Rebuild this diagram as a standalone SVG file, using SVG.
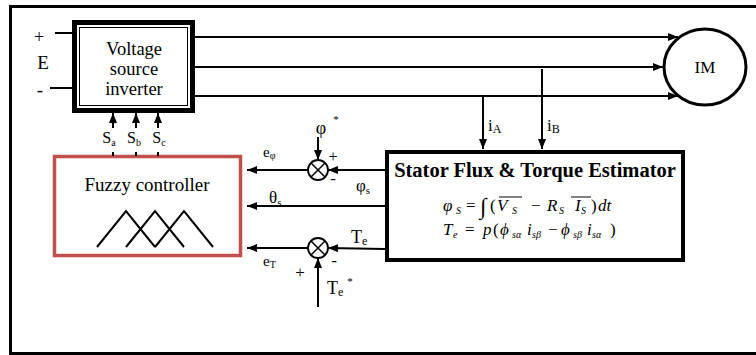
<svg xmlns="http://www.w3.org/2000/svg" width="756" height="355" viewBox="0 0 756 355">
<defs>
<style>
.t{font-family:"Liberation Serif","Times New Roman",serif;fill:#000}
.i{font-style:italic}
.w{stroke:#000;stroke-width:2;fill:none}
.frame{stroke:#000;stroke-width:3;fill:none}
</style>
<marker id="ah" viewBox="0 0 10 8" refX="10" refY="4" markerWidth="10" markerHeight="8" markerUnits="userSpaceOnUse" orient="auto">
<path d="M0,0 L10,4 L0,8 z" fill="#000"/>
</marker>
</defs>
<rect x="0" y="0" width="756" height="355" fill="#fff"/>
<g id="frame">
<path class="frame" d="M10.5,5 V353.5 H756 M9,6.5 H756"/>
</g>

<g id="source">
<text class="t" x="39" y="43" font-size="18" text-anchor="middle">+</text>
<text class="t" x="43" y="69" font-size="19" text-anchor="middle">E</text>
<text class="t" x="40" y="96" font-size="19" text-anchor="middle">-</text>
</g>

<g id="vsi">
<rect x="74.5" y="22.5" width="118" height="88" fill="#fff" stroke="#000" stroke-width="5"/>
<rect x="79.5" y="27.5" width="108" height="78" fill="none" stroke="#000" stroke-width="1"/>
<text class="t" font-size="18.5" text-anchor="middle"><tspan x="134" y="55">Voltage</tspan><tspan x="134" y="75">source</tspan><tspan x="134" y="95">inverter</tspan></text>
</g>

<g id="im">
<ellipse cx="705" cy="67" rx="41" ry="38" fill="#fff" stroke="#000" stroke-width="3"/>
<text class="t" x="705" y="73" font-size="17" text-anchor="middle">IM</text>
</g>

<g id="fuzzy">
<rect x="54.5" y="156.5" width="186" height="99" fill="#fff" stroke="#c0504d" stroke-width="3.5"/>
<text class="t" x="147" y="191" font-size="19" text-anchor="middle">Fuzzy controller</text>
<path class="w" d="M97,247 L126,211 L155,247 M126,247 L155,211 L184,247 M155,247 L184,211 L213,247"/>
</g>

<g id="estimator">
<rect x="387" y="152" width="296" height="108" fill="#fff" stroke="#000" stroke-width="4"/>
<text class="t" x="535" y="177" font-size="20.5" font-weight="bold" text-anchor="middle">Stator Flux &amp; Torque Estimator</text>
<g class="t i">
<text x="443" y="211" font-size="17">φ</text>
<text x="456" y="214" font-size="10">S</text>
<text x="466" y="211" font-size="17" font-style="normal">=</text>
<text x="480" y="214" font-size="23" font-style="normal">∫</text>
<text x="490" y="211" font-size="17" font-style="normal">(</text>
<text x="497" y="211" font-size="17">V</text>
<text x="512" y="214" font-size="10">S</text>
<text x="531" y="211" font-size="17" font-style="normal">−</text>
<text x="547" y="211" font-size="17">R</text>
<text x="559" y="214" font-size="10">S</text>
<text x="575" y="211" font-size="17">I</text>
<text x="581" y="214" font-size="10">S</text>
<text x="591" y="211" font-size="17" font-style="normal">)</text>
<text x="598" y="211" font-size="17">dt</text>
<text x="443" y="235" font-size="17">T</text>
<text x="453" y="238" font-size="10">e</text>
<text x="465" y="235" font-size="17" font-style="normal">=</text>
<text x="483" y="235" font-size="17">p</text>
<text x="493" y="235" font-size="17" font-style="normal">(</text>
<text x="500" y="235" font-size="17">ϕ</text>
<text x="512" y="238" font-size="10">sα</text>
<text x="527" y="235" font-size="17">i</text>
<text x="532" y="238" font-size="10">sβ</text>
<text x="548" y="235" font-size="17" font-style="normal">−</text>
<text x="561" y="235" font-size="17">ϕ</text>
<text x="573" y="238" font-size="10">sβ</text>
<text x="587" y="235" font-size="17">i</text>
<text x="592" y="238" font-size="10">sα</text>
<text x="610" y="235" font-size="17" font-style="normal">)</text>
</g>
<path d="M499,197 H522 M571,197 H591" stroke="#000" stroke-width="1"/>
</g>

<g id="sum1">
<circle cx="318" cy="170" r="10" fill="#fff" stroke="#000" stroke-width="1.8"/>
<path d="M311,163 L325,177 M325,163 L311,177" stroke="#000" stroke-width="1.5"/>
</g>
<g id="sum2">
<circle cx="318" cy="248" r="10" fill="#fff" stroke="#000" stroke-width="1.8"/>
<path d="M311,241 L325,255 M325,241 L311,255" stroke="#000" stroke-width="1.5"/>
</g>

<g id="connectors">
<path class="w" d="M55,33 H72 M50,88 H72"/>
<path class="w" d="M195,37 H678" marker-end="url(#ah)"/>
<path class="w" d="M195,67 H663" marker-end="url(#ah)"/>
<path class="w" d="M195,96 H678" marker-end="url(#ah)"/>
<path class="w" d="M483,96 V149" marker-end="url(#ah)"/>
<path class="w" d="M542,69 V149" marker-end="url(#ah)"/>
<path class="w" d="M113,128 V113" marker-end="url(#ah)"/>
<path class="w" d="M136,128 V113" marker-end="url(#ah)"/>
<path class="w" d="M158,128 V113" marker-end="url(#ah)"/>
<path class="w" d="M113,152 V156 M136,152 V156 M158,152 V156"/>
<path class="w" d="M318,137 V160" marker-end="url(#ah)"/>
<path class="w" d="M385,170 H328" marker-end="url(#ah)"/>
<path class="w" d="M308,170 H247" marker-end="url(#ah)"/>
<path class="w" d="M385,206 H247" marker-end="url(#ah)"/>
<path class="w" d="M385,249 L328,248" marker-end="url(#ah)"/>
<path class="w" d="M308,248 H247" marker-end="url(#ah)"/>
<path class="w" d="M318,307 V258" marker-end="url(#ah)"/>
</g>

<g id="labels" class="t">
<text x="109" y="143" font-size="16" text-anchor="middle">S<tspan font-size="10" dy="3">a</tspan></text>
<text x="134" y="143" font-size="16" text-anchor="middle">S<tspan font-size="10" dy="3">b</tspan></text>
<text x="159" y="143" font-size="16" text-anchor="middle">S<tspan font-size="10" dy="3">c</tspan></text>
<text x="488" y="131" font-size="17">i<tspan font-size="12" dy="2">A</tspan></text>
<text x="547" y="131" font-size="17">i<tspan font-size="12" dy="2">B</tspan></text>
<text x="321" y="134" font-size="18" text-anchor="middle">φ</text>
<text x="336" y="123" font-size="11" text-anchor="middle">*</text>
<text x="333" y="162" font-size="16" text-anchor="middle">+</text>
<text x="333" y="184" font-size="17" text-anchor="middle">-</text>
<text x="263" y="157" font-size="15">e<tspan font-size="10" dy="2">φ</tspan></text>
<text x="356" y="191" font-size="17">φ<tspan font-size="11" dy="3">s</tspan></text>
<text x="269" y="203" font-size="17">θ<tspan font-size="11" dy="3">s</tspan></text>
<text x="351" y="243" font-size="18">T<tspan font-size="12" dy="2">e</tspan></text>
<text x="334" y="266" font-size="17" text-anchor="middle">-</text>
<text x="263" y="266" font-size="15">e<tspan font-size="10" dy="2">T</tspan></text>
<text x="300" y="278" font-size="17" text-anchor="middle">+</text>
<text x="327" y="294" font-size="18">T<tspan font-size="12" dy="2">e</tspan></text>
<text x="350" y="285" font-size="11" text-anchor="middle">*</text>
</g>
</svg>
